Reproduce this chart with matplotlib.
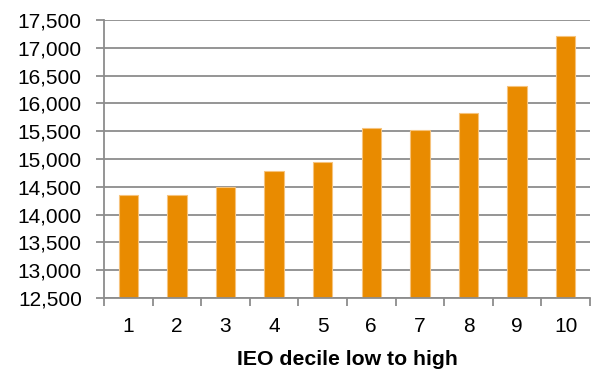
import matplotlib
matplotlib.use("Agg")
import matplotlib.pyplot as plt
from matplotlib.ticker import FixedLocator, FuncFormatter

# IEO deciles and their values
deciles = ["1", "2", "3", "4", "5", "6", "7", "8", "9", "10"]
values = [14344, 14347, 14502, 14781, 14943, 15555, 15519, 15820, 16306, 17206]
y_ticks = [12500, 13000, 13500, 14000, 14500, 15000, 15500, 16000, 16500, 17000, 17500]

plt.rcParams["font.family"] = ["Liberation Sans", "DejaVu Sans"]

bar_color = "#E98B00"
edge_color = "#F6C37D"
grid_color = "#8C8C8C"

fig = plt.figure(figsize=(5.92, 3.72), dpi=100)
ax = fig.add_axes([0.1757, 0.199, 0.8209, 0.747])

x = list(range(1, len(deciles) + 1))
ax.bar(x, [v - y_ticks[0] for v in values], bottom=y_ticks[0], width=0.4,
       color=bar_color, edgecolor=edge_color, linewidth=0.8, zorder=3)

ax.set_ylim(y_ticks[0], y_ticks[-1])
ax.set_xlim(0.5, len(deciles) + 0.5)

ax.yaxis.set_major_locator(FixedLocator(y_ticks))
ax.yaxis.set_major_formatter(FuncFormatter(lambda v, p: f"{int(v):,}"))
ax.grid(axis="y", color=grid_color, linewidth=1.3, zorder=0)

# category labels centered on bars, tick marks between categories
ax.set_xticks(x)
ax.set_xticklabels(deciles)
ax.set_xticks([i + 0.5 for i in range(0, len(deciles) + 1)], minor=True)
ax.tick_params(axis="x", which="major", length=0, pad=14, labelsize=15)
ax.tick_params(axis="x", which="minor", length=6, width=1.3, color=grid_color)
ax.tick_params(axis="y", length=6, width=1.3, color=grid_color, pad=10, labelsize=15)

for side in ("top", "right"):
    ax.spines[side].set_visible(False)
for side in ("left", "bottom"):
    ax.spines[side].set_color(grid_color)
    ax.spines[side].set_linewidth(1.3)
    ax.spines[side].set_zorder(4)

ax.set_xlabel("IEO decile low to high", fontsize=15.3, fontweight="bold", labelpad=10)

fig.savefig("out.png", dpi=100)
